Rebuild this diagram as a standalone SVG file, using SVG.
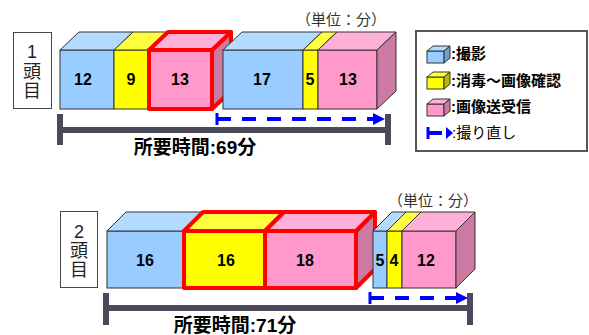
<svg xmlns="http://www.w3.org/2000/svg" width="589" height="335" viewBox="0 0 589 335">
<style>
.bf{fill:#99ccff;stroke:#333;stroke-width:1}
.bt{fill:#b3daff;stroke:#333;stroke-width:1}
.bs{fill:#6f9fd0;stroke:#333;stroke-width:1}
.yf{fill:#ffff00;stroke:#333;stroke-width:1}
.yt{fill:#ffff40;stroke:#333;stroke-width:1}
.ys{fill:#b8b800;stroke:#333;stroke-width:1}
.pf{fill:#ff99cc;stroke:#333;stroke-width:1}
.pt{fill:#ffb0d8;stroke:#333;stroke-width:1}
.ps{fill:#cc7aa3;stroke:#333;stroke-width:1}
.red{stroke:#ff0000;stroke-width:4;stroke-linejoin:round}
.num{font-family:"Liberation Sans",Arial,sans-serif;font-weight:bold;font-size:16px;fill:#000;text-anchor:middle}
.lbl{font-family:"Liberation Sans","Noto Sans CJK JP",sans-serif;font-size:18px;fill:#222;text-anchor:middle}
.unit{font-family:"Noto Sans CJK JP",sans-serif;font-size:15px;fill:#333;text-anchor:middle}
.tot{font-family:"Liberation Sans","Noto Sans CJK JP",sans-serif;font-size:19px;font-weight:bold;fill:#000;text-anchor:middle}
.leg{font-family:"Liberation Sans","Noto Sans CJK JP",sans-serif;font-size:15px;font-weight:bold;fill:#000}
.legn{font-family:"Liberation Sans","Noto Sans CJK JP",sans-serif;font-size:15px;fill:#000}
.box{fill:#fff;stroke:#444;stroke-width:1}
.bar{stroke:#4a4a5c;stroke-width:6;fill:none}
.dash{stroke:#0000ff;stroke-width:4;fill:none;stroke-dasharray:14 11}
.tick{stroke:#0000ff;stroke-width:3}
.ah{fill:#0000ff}
</style>

<!-- Row 1 -->
<g id="label1">
<rect class="box" x="13.5" y="32.5" width="38" height="76"/>
<text class="lbl" x="32" y="58">1</text>
<text class="lbl" x="32" y="78">頭</text>
<text class="lbl" x="32" y="97">目</text>
</g>
<text class="unit" x="341" y="25">（単位：分）</text>

<g id="r1-shoot1">
<rect class="bf" x="60" y="50" width="54" height="59"/>
<polygon class="bt" points="60,50 114,50 133,32 79,32"/>
<text class="num" x="83" y="85">12</text>
</g>
<g id="r1-disinfect1">
<rect class="yf" x="114" y="50" width="35" height="59"/>
<polygon class="yt" points="114,50 149,50 168,32 133,32"/>
<text class="num" x="131" y="85">9</text>
</g>
<g id="r1-send1">
<polygon class="ps red" points="212,50 231,32 231,91 212,109"/>
<polygon class="pt red" points="149,50 212,50 231,32 168,32"/>
<rect class="pf red" x="149" y="50" width="63" height="59"/>
<text class="num" x="180" y="85">13</text>
</g>
<g id="r1-shoot2">
<rect class="bf" x="223" y="50" width="80" height="59"/>
<polygon class="bt" points="223,50 303,50 322,32 242,32"/>
<text class="num" x="262" y="85">17</text>
</g>
<g id="r1-disinfect2">
<rect class="yf" x="303" y="50" width="15" height="59"/>
<polygon class="yt" points="303,50 318,50 337,32 322,32"/>
<text class="num" x="310" y="85">5</text>
</g>
<g id="r1-send2">
<rect class="pf" x="318" y="50" width="59" height="59"/>
<polygon class="pt" points="318,50 377,50 396,32 337,32"/>
<polygon class="ps" points="377,50 396,32 396,91 377,109"/>
<text class="num" x="348" y="85">13</text>
</g>

<!-- Row 2 -->
<g id="label2">
<rect class="box" x="60.5" y="211.5" width="37" height="76"/>
<text class="lbl" x="79" y="238">2</text>
<text class="lbl" x="79" y="257">頭</text>
<text class="lbl" x="79" y="276">目</text>
</g>
<text class="unit" x="433" y="206">（単位：分）</text>

<g id="r2-shoot1">
<rect class="bf" x="107" y="231" width="77" height="57"/>
<polygon class="bt" points="107,231 184,231 203,212 126,212"/>
<text class="num" x="145" y="266">16</text>
</g>
<g id="r2-disinfect1">
<polygon class="yt red" points="184,231 265,231 284,212 203,212"/>
<rect class="yf red" x="184" y="231" width="81" height="57"/>
<text class="num" x="226" y="266">16</text>
</g>
<g id="r2-send1">
<polygon class="ps red" points="356,231 375,212 375,269 356,288"/>
<polygon class="pt red" points="265,231 356,231 375,212 284,212"/>
<rect class="pf red" x="265" y="231" width="91" height="57"/>
<text class="num" x="305" y="266">18</text>
</g>
<g id="r2-shoot2">
<rect class="bf" x="373" y="231" width="14" height="57"/>
<polygon class="bt" points="373,231 387,231 406,212 392,212"/>
<text class="num" x="380" y="266">5</text>
</g>
<g id="r2-disinfect2">
<rect class="yf" x="387" y="231" width="15" height="57"/>
<polygon class="yt" points="387,231 402,231 421,212 406,212"/>
<text class="num" x="394" y="266">4</text>
</g>
<g id="r2-send2">
<rect class="pf" x="402" y="231" width="54" height="57"/>
<polygon class="pt" points="402,231 456,231 475,212 421,212"/>
<polygon class="ps" points="456,231 475,212 475,269 456,288"/>
<text class="num" x="426" y="266">12</text>
</g>

<!-- connectors: total-time brackets and retake arrows -->
<g id="connectors">
<path class="bar" d="M60,114 V145 M60,130 H388 M388,114 V145"/>
<line class="tick" x1="217" y1="113" x2="217" y2="125"/>
<line class="dash" x1="217" y1="119" x2="375" y2="119"/>
<polygon class="ah" points="373,113 385,119 373,125"/>

<path class="bar" d="M106,293 V325 M106,308 H470 M470,293 V325"/>
<line class="tick" x1="370" y1="292" x2="370" y2="304"/>
<line class="dash" x1="370" y1="298" x2="458" y2="298"/>
<polygon class="ah" points="456,292 468,298 456,304"/>
</g>
<text class="tot" x="195" y="154">所要時間:69分</text>
<text class="tot" x="235" y="332">所要時間:71分</text>

<!-- Legend -->
<g id="legend">
<rect x="416" y="31" width="171" height="120" fill="#fff" stroke="#555" stroke-width="2"/>
<g id="leg-shoot">
<rect class="bf" x="427" y="51" width="17" height="12"/>
<polygon class="bt" points="427,51 444,51 450,46 433,46"/>
<polygon class="bs" points="444,51 450,46 450,58 444,63"/>
<text class="leg" x="451" y="59">:撮影</text>
</g>
<g id="leg-disinfect">
<rect class="yf" x="427" y="77" width="17" height="12"/>
<polygon class="yt" points="427,77 444,77 450,72 433,72"/>
<polygon class="ys" points="444,77 450,72 450,84 444,89"/>
<text class="leg" x="451" y="86">:消毒～画像確認</text>
</g>
<g id="leg-send">
<rect class="pf" x="427" y="104" width="17" height="12"/>
<polygon class="pt" points="427,104 444,104 450,99 433,99"/>
<polygon class="ps" points="444,104 450,99 450,111 444,116"/>
<text class="leg" x="451" y="112">:画像送受信</text>
</g>
<g id="leg-retake">
<line class="tick" x1="428" y1="127" x2="428" y2="139"/>
<line stroke="#0000ff" stroke-width="4" x1="428" y1="133" x2="442" y2="133"/>
<polygon class="ah" points="446,127 453,133 446,139"/>
<text class="legn" x="452" y="138">:撮り直し</text>
</g>
</g>
</svg>
